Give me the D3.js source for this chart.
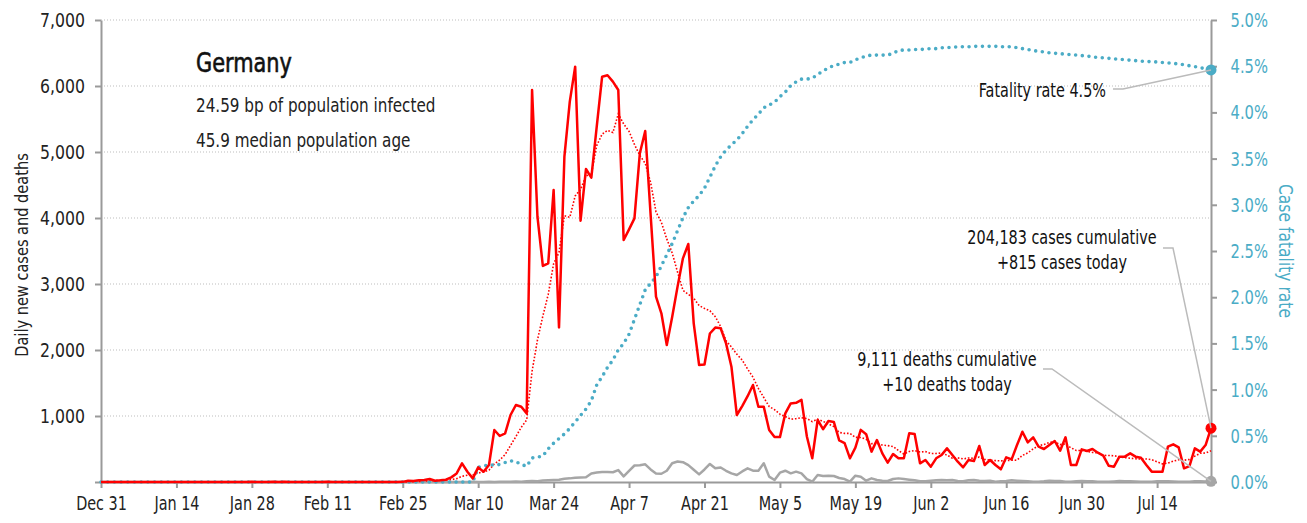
<!DOCTYPE html>
<html>
<head>
<meta charset="utf-8">
<script src="https://cdn.jsdelivr.net/npm/d3@7"></script>
<style>
  body { margin: 0; background: #fff; }
  svg { display: block; font-family: "Liberation Sans Narrow", "DejaVu Sans Condensed", "Roboto", sans-serif; }
</style>
</head>
<body>
<svg id="chart" width="1307" height="523"></svg>
<script>
const W = 1307, H = 523;
const M = { left: 101, right: 1211, top: 20, bottom: 482 };

// daily series, first entry is Dec 31 2019
const startDate = "2019-12-31";

const cases = [
  0,0,0,0,0,0,0,0,0,0,0,0,0,0,0,0,0,0,0,0,0,0,0,0,0,0,0,
  1,3,0,0,1,2,0,2,1,0,1,1,0,0,0,2,0,0,0,0,0,0,0,0,0,0,0,0,0,
  2,20,15,25,30,45,
  20,25,35,70,130,283,156,55,222,156,258,788,697,737,1015,1167,1141,1040,5940,4020,3273,3313,4424,2343,4929,5763,6293,3960,4742,4611,
  5384,6141,6162,6066,5939,3667,3828,3995,4980,5318,4050,2808,2556,2076,2500,2960,3389,3606,2404,1773,1780,2250,2340,2330,2100,1747,1015,1150,1300,1470,
  1141,1141,788,680,680,1040,1190,1200,1245,690,360,940,800,925,910,630,590,359,520,790,725,460,636,434,293,424,359,359,737,727,283,
  333,232,359,409,510,409,308,222,333,318,545,258,333,258,192,374,343,560,762,601,677,535,500,560,621,474,677,258,258,495,
  470,500,444,399,247,232,384,384,434,384,368,258,157,157,157,535,571,525,207,242,510,460,560,815
];

const deaths = [
  0,0,0,0,0,0,0,0,0,0,0,0,0,0,0,0,0,0,0,0,0,0,0,0,0,0,0,0,0,0,0,0,0,0,0,
  0,0,0,0,0,0,0,0,0,0,0,0,0,0,0,0,0,0,0,0,0,0,0,0,0,0,0,0,0,0,0,0,0,0,
  2,0,1,3,1,2,4,4,7,4,10,16,12,21,26,30,35,50,55,65,70,72,128,
  145,150,150,148,180,85,170,250,255,268,190,130,125,170,285,310,300,255,185,116,190,273,207,220,170,130,106,160,207,171,
  171,283,81,30,141,171,131,157,130,45,5,106,91,95,91,60,45,5,96,80,20,55,30,20,15,45,55,45,35,25,10,
  10,20,25,30,25,30,15,10,25,30,20,15,20,5,10,15,25,20,15,10,5,5,10,20,15,15,5,3,10,15,
  10,10,5,5,2,8,15,10,10,8,5,2,5,10,10,10,8,5,2,5,10,10,8,10
];

// case fatality rate, percent
const cfr = [
  0,0,0,0,0,0,0,0,0,0,0,0,0,0,0,0,0,0,0,0,0,0,0,0,0,0,0,0,0,0,0,0,0,0,0,
  0,0,0,0,0,0,0,0,0,0,0,0,0,0,0,0,0,0,0,0,0,0,0,0,0,0,0,0,0,0,0,0,0,0,0,
  0.16,0.17,0.19,0.18,0.19,0.21,0.23,0.22,0.19,0.17,0.26,0.27,0.28,0.36,0.42,0.47,0.52,0.58,0.65,0.72,0.79,0.88,
  1.05,1.14,1.24,1.32,1.43,1.50,1.60,1.76,1.92,2.08,2.15,2.22,2.34,2.46,2.58,2.72,2.86,2.97,3.04,3.10,3.18,3.30,3.42,3.52,3.59,3.65,3.70,3.77,3.85,3.92,
  3.98,4.05,4.08,4.11,4.17,4.22,4.29,4.33,4.36,4.36,4.37,4.41,4.45,4.48,4.51,4.52,4.54,4.54,4.57,4.59,4.61,4.62,4.62,4.62,4.62,4.64,4.67,4.675,4.675,4.68,4.68,
  4.685,4.69,4.69,4.70,4.70,4.705,4.71,4.71,4.71,4.715,4.715,4.715,4.715,4.715,4.71,4.71,4.71,4.70,4.69,4.68,4.67,4.66,4.655,4.645,4.64,4.635,4.63,4.625,4.62,4.615,
  4.61,4.60,4.595,4.59,4.585,4.58,4.575,4.57,4.565,4.56,4.555,4.55,4.55,4.545,4.54,4.535,4.53,4.525,4.515,4.505,4.495,4.485,4.47,4.46
];

const leftTicks = [0, 1000, 2000, 3000, 4000, 5000, 6000, 7000];
const rightTicks = [0, 0.5, 1, 1.5, 2, 2.5, 3, 3.5, 4, 4.5, 5];
const tickEveryDays = 14;

const country = "Germany";
const infoLines = ["24.59 bp of population infected", "45.9 median population age"];
const casesTotal = "204,183", casesToday = "+815";
const deathsTotal = "9,111", deathsToday = "+10";

const RED = "#ff0000", BLUE = "#4bacc6", GREY = "#a6a6a6", AXIS = "#9a9a9a";

var t0 = d3.utcParse("%Y-%m-%d")(startDate);
var dates = cases.map((d, i) => d3.utcDay.offset(t0, i));
var rows = dates.map((d, i) => ({ date: d, cases: cases[i], deaths: deaths[i], cfr: cfr[i] }));

// trailing 7 day mean of the daily cases
var trend = rows.slice(6).map((r, i) => ({ date: r.date, v: d3.mean(cases.slice(i, i + 7)) }));

var x = d3.scaleUtc().domain([dates[0], dates[dates.length - 1]]).range([M.left, M.right]);
var y = d3.scaleLinear().domain([0, 7000]).range([M.bottom, M.top]);
var y2 = d3.scaleLinear().domain([0, 5]).range([M.bottom, M.top]);

var svg = d3.select("#chart");

// the original face is a condensed one, so squeeze text horizontally
var squeeze = (sel, sx) => sel.each(function () {
  var t = d3.select(this);
  var tx = +t.attr("x") || 0, ty = +t.attr("y") || 0;
  t.attr("transform", `translate(${tx},${ty}) scale(${sx},1)`).attr("x", 0).attr("y", 0);
});

// grid
svg.append("g")
  .selectAll("line")
  .data(leftTicks.slice(1))
  .join("line")
  .attr("x1", M.left).attr("x2", M.right)
  .attr("y1", d => y(d)).attr("y2", d => y(d))
  .attr("stroke", "#bdbdbd")
  .attr("stroke-width", 1)
  .attr("stroke-dasharray", "1 2");

// axes
var xTicks = dates.filter((d, i) => i % tickEveryDays == 0);
var xAxis = svg.append("g")
  .attr("transform", `translate(0,${M.bottom})`)
  .call(d3.axisBottom(x).tickValues(xTicks).tickFormat(d3.utcFormat("%b %-d")).tickSize(6).tickSizeOuter(0));

var yAxis = svg.append("g")
  .attr("transform", `translate(${M.left},0)`)
  .call(d3.axisLeft(y).tickValues(leftTicks).tickFormat(d => d ? d3.format(",")(d) : "").tickSize(6).tickSizeOuter(0));

var y2Axis = svg.append("g")
  .attr("transform", `translate(${M.right},0)`)
  .call(d3.axisRight(y2).tickValues(rightTicks).tickFormat(d => d.toFixed(1) + "%").tickSize(6).tickSizeOuter(0));

[xAxis, yAxis, y2Axis].forEach(g => {
  g.attr("font-family", null).attr("font-size", null);
  g.selectAll("path, line").attr("stroke", AXIS).attr("stroke-width", 2);
  g.selectAll("text").attr("fill", "#222");
});

xAxis.selectAll("text").attr("y", 14).attr("font-size", 20).call(squeeze, 0.8);
yAxis.selectAll("text").attr("x", -16).attr("font-size", 19).call(squeeze, 0.92);
y2Axis.selectAll("text").attr("x", 57).attr("text-anchor", "end").attr("font-size", 20)
  .attr("fill", BLUE).call(squeeze, 0.82);

// axis titles
svg.append("text")
  .attr("transform", `translate(28,255) rotate(-90) scale(0.9,1)`)
  .attr("text-anchor", "middle")
  .attr("font-size", 18)
  .attr("fill", "#222")
  .text("Daily new cases and deaths");

svg.append("text")
  .attr("transform", `translate(1279,251) rotate(90) scale(0.91,1)`)
  .attr("text-anchor", "middle")
  .attr("font-size", 19)
  .attr("fill", BLUE)
  .text("Case fatality rate");

// lines
var line = (fy, key) => d3.line().x(d => x(d.date)).y(d => fy(d[key]));

svg.append("path")
  .datum(rows)
  .attr("fill", "none")
  .attr("stroke", GREY)
  .attr("stroke-width", 2.5)
  .attr("stroke-linejoin", "round")
  .attr("d", line(y, "deaths"));

svg.append("path")
  .datum(trend)
  .attr("fill", "none")
  .attr("stroke", RED)
  .attr("stroke-width", 1.6)
  .attr("stroke-dasharray", "1.6 1.8")
  .attr("d", line(y, "v"));

svg.append("path")
  .datum(rows)
  .attr("fill", "none")
  .attr("stroke", BLUE)
  .attr("stroke-width", 3.6)
  .attr("stroke-linecap", "round")
  .attr("stroke-dasharray", "0 6.7")
  .attr("d", line(y2, "cfr"));

svg.append("path")
  .datum(rows)
  .attr("fill", "none")
  .attr("stroke", RED)
  .attr("stroke-width", 2.5)
  .attr("stroke-linejoin", "round")
  .attr("d", line(y, "cases"));

// end markers
var last = rows[rows.length - 1];
var ends = [
  { v: y(last.deaths), c: GREY },
  { v: y(last.cases), c: RED },
  { v: y2(last.cfr), c: BLUE }
];
svg.selectAll("circle.end")
  .data(ends)
  .join("circle")
  .attr("class", "end")
  .attr("cx", x(last.date))
  .attr("cy", d => d.v)
  .attr("r", 5.5)
  .attr("fill", d => d.c);

// title block
svg.append("text")
  .attr("x", 196).attr("y", 72)
  .attr("font-size", 27)
  .attr("fill", "#111")
  .attr("stroke", "#111")
  .attr("stroke-width", 0.6)
  .text(country)
  .call(squeeze, 0.86);

svg.selectAll("text.info")
  .data(infoLines)
  .join("text")
  .attr("class", "info")
  .attr("x", 196)
  .attr("y", (d, i) => 111.5 + i * 35)
  .attr("font-size", 20)
  .attr("fill", "#222")
  .text(d => d)
  .call(squeeze, 0.845);

// annotations with leader lines
var note = (lines, cx, cy, anchor, path) => {
  svg.append("path")
    .attr("d", d3.line()(path))
    .attr("fill", "none")
    .attr("stroke", "#bbb")
    .attr("stroke-width", 1.5);
  svg.selectAll(null)
    .data(lines)
    .join("text")
    .attr("x", cx)
    .attr("y", (d, i) => cy + i * 25)
    .attr("text-anchor", anchor)
    .attr("font-size", 20)
    .attr("fill", "#111")
    .text(d => d)
    .call(squeeze, 0.8);
};

note(["Fatality rate " + last.cfr.toFixed(1) + "%"], 1106, 97, "end",
  [[1113, 89], [1123, 89], [x(last.date), y2(last.cfr)]]);

note([casesTotal + " cases cumulative", casesToday + " cases today"], 1062, 244, "middle",
  [[1163, 248], [1173, 248], [x(last.date), y(last.cases)]]);

note([deathsTotal + " deaths cumulative", deathsToday + " deaths today"], 947, 366, "middle",
  [[1043, 369], [1052, 369], [x(last.date), y(last.deaths)]]);
</script>
</body>
</html>
